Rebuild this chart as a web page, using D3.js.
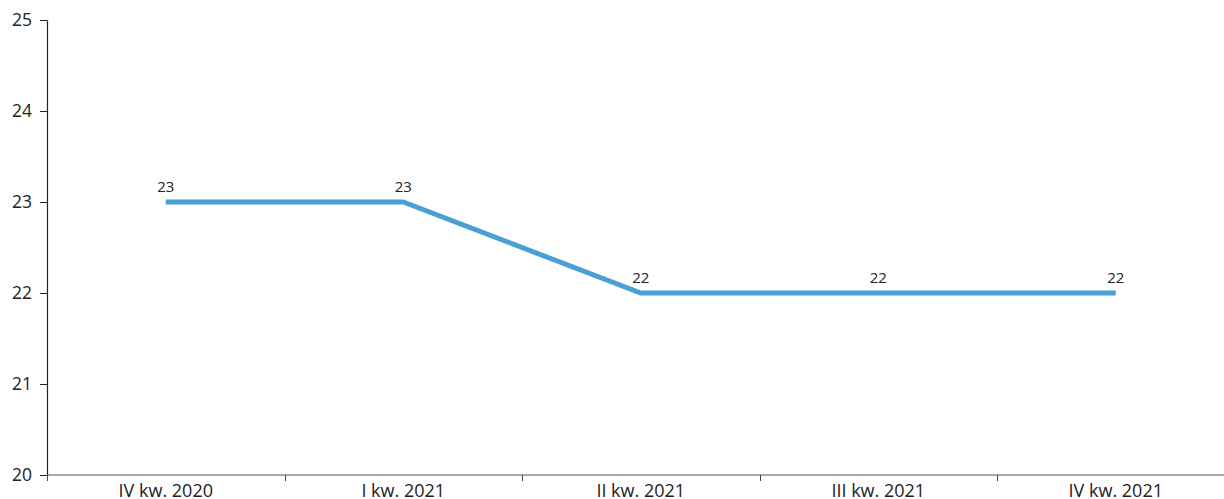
<!DOCTYPE html>
<html><head><meta charset="utf-8">
<script src="https://cdn.jsdelivr.net/npm/d3@7"></script>
<style>body{margin:0;background:#fff;} svg{display:block;font-family:"Open Sans",sans-serif;}</style>
</head><body>
<svg id="c" width="1224" height="499"></svg>
<script>
const categories = ["IV kw. 2020","I kw. 2021","II kw. 2021","III kw. 2021","IV kw. 2021"];
const values = [23,23,22,22,22];
const yTicks = [20,21,22,23,24,25];

const svg = d3.select("#c");
const W = 1224, H = 499;
const m = {left:47, top:20, bottom:24};
const x = d3.scaleBand().domain(categories).range([m.left, m.left + 5*237.5]).padding(0);
const y = d3.scaleLinear().domain([20,25]).range([H - m.bottom, m.top]);

// y axis
const ya = svg.append("g").attr("transform",`translate(${m.left},0)`)
  .call(d3.axisLeft(y).tickValues(yTicks).tickFormat(d3.format("d")).tickSize(7).tickSizeOuter(0).tickPadding(8));
ya.select(".domain").attr("stroke","#222").attr("stroke-width",1.2);
ya.selectAll(".tick line").attr("stroke","#222");
ya.selectAll(".tick text").attr("font-size",17.5).attr("fill","#222").attr("font-family","Open Sans");

// x axis
const xa = svg.append("g").attr("transform",`translate(0,${H - m.bottom})`)
  .call(d3.axisBottom(x).tickSize(0).tickSizeOuter(0).tickPadding(9));
xa.select(".domain").attr("stroke","#555").attr("stroke-width",1.2)
  .attr("d", `M${m.left},0H${W}`);
xa.selectAll(".tick text").attr("font-size",18).attr("fill","#222").attr("font-family","Open Sans");
const bounds = categories.map(c => x(c));
xa.selectAll(".bt").data(bounds).enter().append("line").attr("class","bt")
  .attr("x1",d=>Math.round(d)+0.5).attr("x2",d=>Math.round(d)+0.5).attr("y1",0).attr("y2",6)
  .attr("stroke","#444").attr("stroke-width",1);

// line
const cx = c => x(c) + x.bandwidth()/2;
const line = d3.line().x((d,i)=>cx(categories[i])).y(d=>y(d));
svg.append("path").datum(values).attr("d",line)
  .attr("fill","none").attr("stroke","#4a9fd4").attr("stroke-width",5);

// labels
svg.selectAll(".lbl").data(values).enter().append("text")
  .attr("x",(d,i)=>cx(categories[i])).attr("y",d=>y(d)-10)
  .attr("text-anchor","middle").attr("font-size",15).attr("fill","#222")
  .text(d=>d);
</script>
</body></html>
